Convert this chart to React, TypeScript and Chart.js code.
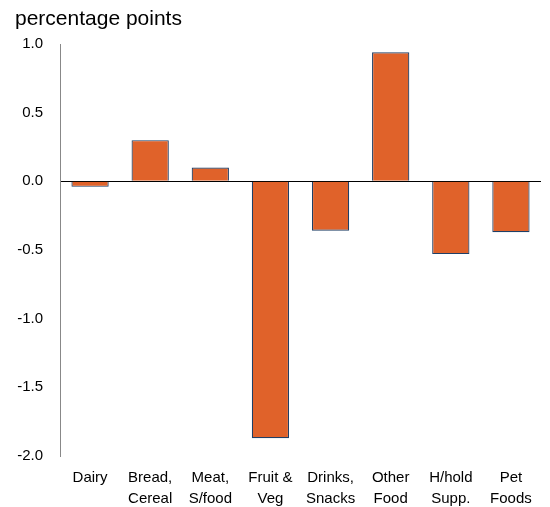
import React, { useEffect, useRef } from "react";
import { Chart, registerables } from "chart.js";

Chart.register(...registerables);

const categories: string[][] = [
  ["Dairy"],
  ["Bread,", "Cereal"],
  ["Meat,", "S/food"],
  ["Fruit &", "Veg"],
  ["Drinks,", "Snacks"],
  ["Other", "Food"],
  ["H/hold", "Supp."],
  ["Pet", "Foods"],
];
const values: number[] = [-0.04, 0.3, 0.1, -1.87, -0.36, 0.94, -0.53, -0.37];
const yTitle = "percentage points";
const yMin = -2.0;
const yMax = 1.0;
const yStep = 0.5;

const FONT = "'Liberation Sans', Arial, sans-serif";

export default function App() {
  const ref = useRef<HTMLCanvasElement | null>(null);
  useEffect(() => {
    if (!ref.current) return;
    const titlePlugin = {
      id: "topTitle",
      afterDraw(chart: any) {
        const ctx = chart.ctx;
        ctx.save();
        ctx.fillStyle = "#000";
        ctx.font = `21px ${FONT}`;
        ctx.textBaseline = "alphabetic";
        ctx.textAlign = "left";
        ctx.fillText(yTitle, 15, 25);
        ctx.restore();
      },
    };
    const chart = new Chart(ref.current, {
      type: "bar",
      data: {
        labels: categories,
        datasets: [
          {
            data: values,
            backgroundColor: "#E0622A",
            borderColor: "#1F3F66",
            borderWidth: 1.2,
            barPercentage: 0.62,
            categoryPercentage: 1,
          },
        ],
      },
      options: {
        animation: false,
        responsive: false,
        layout: { padding: { top: 44, right: 9, left: 0, bottom: 0 } },
        plugins: {
          legend: { display: false },
          tooltip: { enabled: false },
          title: { display: false },
        },
        scales: {
          x: {
            grid: { display: false },
            border: { display: false },
            ticks: {
              color: "#000",
              font: { family: FONT, size: 15, lineHeight: 1.35 },
              padding: 4,
              maxRotation: 0,
              autoSkip: false,
            },
            afterFit(scale: any) {
              scale.height = 51;
            },
          },
          y: {
            min: yMin,
            max: yMax,
            border: { display: true, color: "#888", width: 1 },
            grid: {
              drawTicks: false,
              color: (c: any) => (c.tick && c.tick.value === 0 ? "#000" : "rgba(0,0,0,0)"),
              lineWidth: 1,
            },
            ticks: {
              stepSize: yStep,
              color: "#000",
              padding: 17,
              font: { family: FONT, size: 15 },
              callback: (v: any) => Number(v).toFixed(1),
            },
            afterFit(scale: any) {
              scale.width = 60;
            },
          },
        },
      },
      plugins: [titlePlugin],
    });
    return () => chart.destroy();
  }, []);
  return (
    <div style={{ position: "fixed", left: 0, top: 0, width: 550, height: 507, background: "#fff" }}>
      <canvas ref={ref} width={550} height={507} style={{ display: "block" }} />
    </div>
  );
}
